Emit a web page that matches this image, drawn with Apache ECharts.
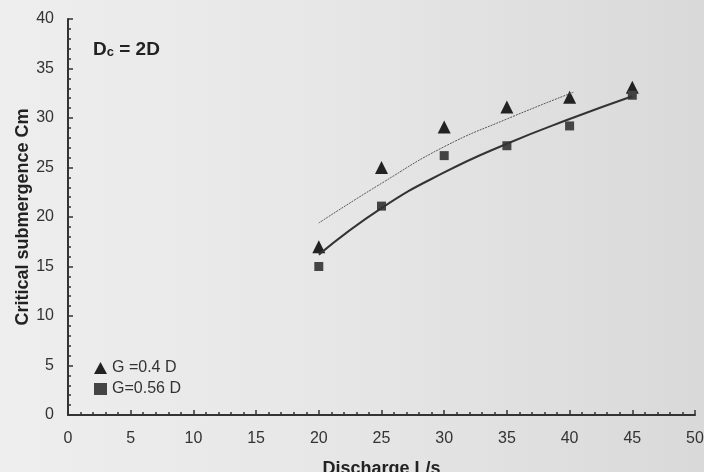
<!DOCTYPE html>
<html>
<head>
<meta charset="utf-8">
<script src="https://cdn.jsdelivr.net/npm/echarts@6/dist/echarts.min.js"></script>
<style>
  html, body { margin: 0; padding: 0; }
  #chart { width: 704px; height: 472px; }
</style>
</head>
<body>
<div id="chart"></div>
<script>
// measured points
var discharge = [20, 25, 30, 35, 40, 45];
var cmG04 = [17, 25, 29.1, 31.1, 32.1, 33.1];   // triangles
var cmG056 = [15, 21.1, 26.2, 27.2, 29.2, 32.3]; // squares

// trend lines
var trendX04 = [20, 25, 30, 35, 40.3];
var trendY04 = [19.4, 23.4, 27.1, 29.9, 32.6];
var trendX056 = [20, 25, 30, 35, 40, 45];
var trendY056 = [16.2, 20.9, 24.5, 27.4, 29.9, 32.2];

var legendNames = ['G =0.4 D', 'G=0.56 D'];

function pairs(xs, ys) {
    var out = [];
    for (var i = 0; i < xs.length; i++) out.push([xs[i], ys[i]]);
    return out;
}

var myChart = echarts.init(document.getElementById('chart'));
var font = '"Liberation Sans", Arial, sans-serif';

var option = {
    backgroundColor: new echarts.graphic.LinearGradient(0, 0, 1, 0, [
        { offset: 0, color: '#eeeeee' },
        { offset: 0.5, color: '#e6e6e6' },
        { offset: 1, color: '#d9d9d9' }
    ]),
    animation: false,
    textStyle: { fontFamily: font },
    grid: { left: 68, right: 9, top: 19, bottom: 57, containLabel: false, outerBoundsMode: 'none' },
    legend: {
        orient: 'vertical',
        left: 89,
        top: 355,
        itemGap: 5,
        itemWidth: 13,
        itemHeight: 12,
        data: legendNames,
        textStyle: { fontSize: 16, color: '#333', fontFamily: font }
    },
    xAxis: {
        type: 'value',
        min: 0, max: 50, interval: 5,
        name: 'Discharge L/s',
        nameLocation: 'middle',
        nameGap: 45,
        nameMoveOverlap: false,
        nameTextStyle: { fontSize: 18, fontWeight: 'bold', color: '#222' },
        axisLine: { lineStyle: { color: '#333', width: 2 } },
        axisTick: { inside: true, length: 5, lineStyle: { color: '#333', width: 1.5 } },
        minorTick: { show: true, splitNumber: 5, length: 3, lineStyle: { color: '#333', width: 1.5 } },
        axisLabel: { fontSize: 16, color: '#333', margin: 16 },
        splitLine: { show: false }
    },
    yAxis: {
        type: 'value',
        min: 0, max: 40, interval: 5,
        name: 'Critical submergence Cm',
        nameLocation: 'middle',
        nameGap: 36,
        nameMoveOverlap: false,
        nameTextStyle: { fontSize: 18, fontWeight: 'bold', color: '#222' },
        axisLine: { show: true, lineStyle: { color: '#333', width: 2 } },
        axisTick: { show: true, inside: true, length: 5, lineStyle: { color: '#333', width: 1.5 } },
        minorTick: { show: true, splitNumber: 5, length: 3, lineStyle: { color: '#333', width: 1.5 } },
        axisLabel: { fontSize: 16, color: '#333', margin: 14 },
        splitLine: { show: false }
    },
    graphic: [{
        type: 'text',
        left: 93,
        top: 40,
        style: {
            text: '{d|D}{s|c}{d| = 2D}',
            rich: {
                d: { fontSize: 19, fontWeight: 'bold', fill: '#222', fontFamily: font },
                s: { fontSize: 13, fontWeight: 'bold', fill: '#222', fontFamily: font, padding: [6, 0, 0, 0] }
            }
        }
    }],
    series: [{
        name: 'trend04',
        type: 'line',
        smooth: true,
        showSymbol: false,
        silent: true,
        lineStyle: { color: '#555', width: 1, type: [2, 1] },
        data: pairs(trendX04, trendY04)
    }, {
        name: 'trend056',
        type: 'line',
        smooth: true,
        showSymbol: false,
        silent: true,
        lineStyle: { color: '#333', width: 2 },
        data: pairs(trendX056, trendY056)
    }, {
        name: legendNames[0],
        type: 'scatter',
        symbol: 'triangle',
        symbolSize: 13,
        itemStyle: { color: '#222', opacity: 1 },
        data: pairs(discharge, cmG04)
    }, {
        name: legendNames[1],
        type: 'scatter',
        symbol: 'rect',
        symbolSize: 9,
        itemStyle: { color: '#444', opacity: 1 },
        data: pairs(discharge, cmG056)
    }]
};
myChart.setOption(option);
</script>
</body>
</html>
